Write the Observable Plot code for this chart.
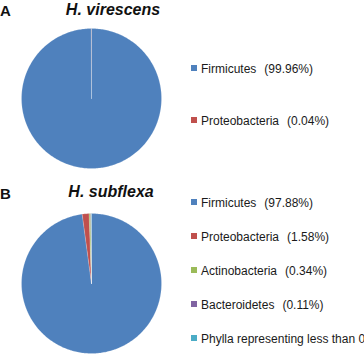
<!DOCTYPE html>
<html>
<head>
<meta charset="utf-8">
<script src="https://cdn.jsdelivr.net/npm/d3@7"></script>
<script src="https://cdn.jsdelivr.net/npm/@observablehq/plot@0.6"></script>
<style>
  html, body { margin: 0; padding: 0; background: #fff; overflow: hidden; }
  #root { position: relative; width: 364px; height: 356px; overflow: hidden; font-family: "Liberation Sans", Arial, sans-serif; color: #1a1a1a; }
  .panel { position: absolute; font-weight: bold; font-size: 15px; color: #111; }
  .title { position: absolute; font-weight: bold; font-style: italic; font-size: 16px; color: #111; white-space: nowrap; transform: translateX(-50%); }
  .pie { position: absolute; }
  .row { position: absolute; left: 191px; height: 14px; line-height: 14px; font-size: 12px; white-space: nowrap; display: flex; align-items: center; }
  .sw { width: 6px; height: 6px; margin-right: 4px; margin-top: -2px; flex: none; }
  .val { margin-left: 8px; }
</style>
</head>
<body>
<div id="root"></div>
<script>
// ---- data ----
const aCats = ["Firmicutes", "Proteobacteria"];
const aVals = [99.96, 0.04];
const aLabels = ["(99.96%)", "(0.04%)"];

const bCats = ["Firmicutes", "Proteobacteria", "Actinobacteria", "Bacteroidetes", "Phylla representing less than 0.1%"];
const bVals = [97.88, 1.58, 0.34, 0.11, 0.09];
const bLabels = ["(97.88%)", "(1.58%)", "(0.34%)", "(0.11%)", ""];

const allCats = ["Firmicutes", "Proteobacteria", "Actinobacteria", "Bacteroidetes", "Phylla representing less than 0.1%"];
const colors = ["#4F81BD", "#C0504D", "#9BBB59", "#8064A2", "#4BACC6"];

const root = document.getElementById("root");

function slicePoints(cats, vals) {
  const arcs = d3.pie().sort(null).value(d => d)(vals);
  const pts = [];
  arcs.forEach((a, i) => {
    const cat = cats[i];
    pts.push({cat, x: 0, y: 0});
    const span = a.endAngle - a.startAngle;
    const n = Math.max(2, Math.ceil(span / (Math.PI / 180)));
    for (let k = 0; k <= n; k++) {
      const t = a.startAngle + span * k / n;
      pts.push({cat, x: Math.sin(t), y: Math.cos(t)});
    }
    pts.push({cat, x: 0, y: 0});
  });
  return pts;
}

function pie(cats, vals) {
  return Plot.plot({
    width: 142, height: 142,
    margin: 1,
    x: {domain: [-1, 1], axis: null},
    y: {domain: [-1, 1], axis: null},
    color: {domain: allCats, range: colors},
    marks: [
      Plot.line(slicePoints(cats, vals), {x: "x", y: "y", z: "cat", fill: "cat", stroke: "white", strokeWidth: 0.5, strokeOpacity: 0.35, curve: "linear-closed"})
    ]
  });
}

function add(el, cls, style, text) {
  const d = document.createElement("div");
  d.className = cls;
  Object.assign(d.style, style);
  if (text != null) d.textContent = text;
  root.appendChild(d);
  return d;
}

function legend(cats, labels, top0, step) {
  cats.forEach((c, i) => {
    const r = add(null, "row", {top: (top0 + i * step - 7) + "px"});
    const sw = document.createElement("span");
    sw.className = "sw";
    sw.style.background = colors[allCats.indexOf(c)];
    r.appendChild(sw);
    const t = document.createElement("span");
    t.textContent = c;
    r.appendChild(t);
    if (labels[i]) {
      const v = document.createElement("span");
      v.className = "val";
      v.textContent = labels[i];
      r.appendChild(v);
    }
  });
}

// Panel A
add(null, "panel", {left: "0px", top: "2px"}, "A");
add(null, "title", {left: "113px", top: "1px"}, "H. virescens");
const pa = pie(aCats, aVals);
pa.classList.add("pie");
pa.style.left = "20px"; pa.style.top = "27px";
root.appendChild(pa);
legend(aCats, aLabels, 69, 52);

// Panel B
add(null, "panel", {left: "0px", top: "185px"}, "B");
add(null, "title", {left: "111px", top: "183px"}, "H. subflexa");
const pb = pie(bCats, bVals);
pb.classList.add("pie");
pb.style.left = "20px"; pb.style.top = "212px";
root.appendChild(pb);
legend(bCats, bLabels, 203, 34);
</script>
</body>
</html>
